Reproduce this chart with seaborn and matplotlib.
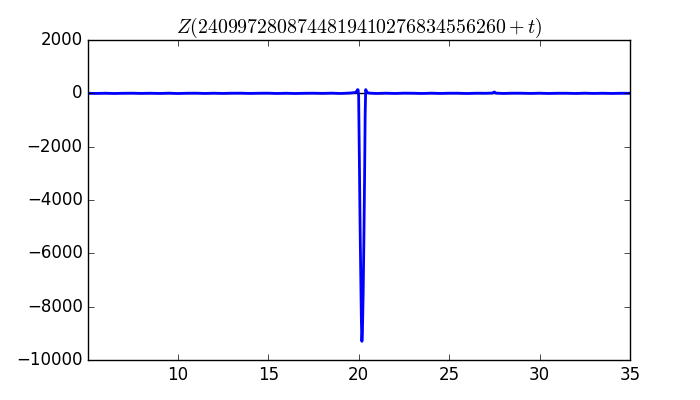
import matplotlib
matplotlib.use("Agg")
import matplotlib.pyplot as plt
import seaborn as sns
import pandas as pd

# Background samples (small oscillations) away from the spike
t_left = [5.05, 5.5, 6.0, 6.5, 7.0, 7.5, 8.0, 8.5, 9.0, 9.5, 10.0, 10.5, 11.0, 11.5,
          12.0, 12.5, 13.0, 13.5, 14.0, 14.5, 15.0, 15.5, 16.0, 16.5, 17.0, 17.5,
          18.0, 18.5, 19.0, 19.5, 19.8]
z_left = [2, -3, 4, -5, 3, 5, -2, 4, -4, 6, -6, 4, 6, -4, 5, -3, 5, 6, -3,
          4, 6, -5, 4, -6, 3, 5, -2, 7, -5, 10, 30]

# Spike region
t_spike = [19.90, 19.94, 19.97, 20.00, 20.04, 20.08, 20.12, 20.15, 20.18, 20.21,
           20.25, 20.29, 20.33, 20.36, 20.39, 20.42, 20.47]
z_spike = [80, 140, 130, -100, -2500, -5000, -7000, -8500, -9300, -8900,
           -7500, -5500, -3000, -800, 140, 100, 30]

t_right = [20.6, 21.0, 21.5, 22.0, 22.5, 23.0, 23.5, 24.0, 24.5, 25.0, 25.5, 26.0,
           26.5, 27.0, 27.4, 27.5, 27.6, 28.0, 28.5, 29.0, 29.5, 30.0, 30.5, 31.0,
           31.5, 32.0, 32.5, 33.0, 33.5, 34.0, 34.5, 35.0]
z_right = [8, -5, 6, -4, 7, 4, -5, 6, -3, 5, 4, -6, 5, 3, 10, 50, 8, -4,
           6, 5, -3, 6, -5, 4, 4, -5, 6, -3, 4, -4, 3, 2]

title = r"$Z(2409972808744819410276834556260+t)$"

df = pd.DataFrame({"t": t_left + t_spike + t_right,
                   "Z": z_left + z_spike + z_right})

plt.style.use("classic")
plt.rcParams["mathtext.fontset"] = "cm"
fig, ax = plt.subplots(figsize=(7, 4), dpi=100)
fig.patch.set_facecolor("white")
ax.axhline(0, color="k", lw=1, zorder=1)
sns.lineplot(data=df, x="t", y="Z", ax=ax, color="b", lw=2, sort=False,
             estimator=None, zorder=2)
ax.set_xlim(5.05, 35)
ax.set_ylim(-10000, 2000)
ax.set_xlabel("")
ax.set_ylabel("")
ax.set_title(title, fontsize=14.3)
fig.subplots_adjust(left=0.126, right=0.9, top=0.9, bottom=0.1)
fig.savefig("out.png", dpi=100, facecolor="white")
